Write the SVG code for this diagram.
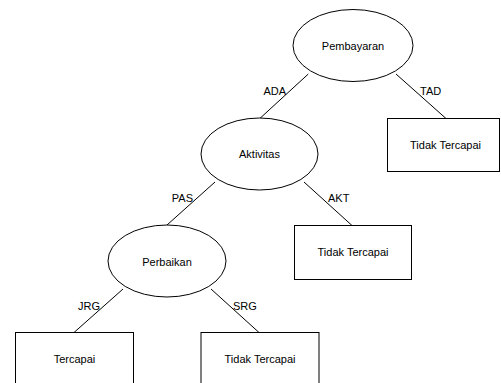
<svg xmlns="http://www.w3.org/2000/svg" width="501" height="383" viewBox="0 0 501 383">
<style>
.n{fill:#fff;stroke:#000;stroke-width:1}
.e{stroke:#000;stroke-width:1;fill:none}
text{font-family:"Liberation Sans",Arial,sans-serif;font-size:11px;fill:#000}
.c{text-anchor:middle}
.l{fill:#000}
</style>
<rect width="501" height="383" fill="#fff"/>
<g id="connectors">
<line class="e" x1="308.3" y1="74" x2="260" y2="118.3"/>
<line class="e" x1="396" y1="74" x2="446" y2="118.5"/>
<line class="e" x1="215" y1="182" x2="167" y2="225"/>
<line class="e" x1="304" y1="182" x2="352" y2="225.5"/>
<line class="e" x1="123" y1="289" x2="74" y2="332.5"/>
<line class="e" x1="211" y1="289" x2="259" y2="332.5"/>
<text class="l" x="286" y="95" text-anchor="end">ADA</text>
<text class="l" x="420" y="95">TAD</text>
<text class="l" x="193" y="202" text-anchor="end">PAS</text>
<text class="l" x="328" y="202">AKT</text>
<text class="l" x="100" y="310" text-anchor="end">JRG</text>
<text class="l" x="233" y="310">SRG</text>
</g>
<g id="pembayaran">
<ellipse class="n" cx="353" cy="45.5" rx="60" ry="36"/>
<text class="c" x="353" y="50">Pembayaran</text>
</g>
<g id="tidak1">
<rect class="n" x="387.5" y="118.5" width="112" height="53"/>
<text class="c" x="445.5" y="148.5">Tidak Tercapai</text>
</g>
<g id="aktivitas">
<ellipse class="n" cx="259.5" cy="154" rx="58.5" ry="36"/>
<text class="c" x="259.5" y="157.5">Aktivitas</text>
</g>
<g id="tidak2">
<rect class="n" x="294.5" y="225.5" width="117" height="54"/>
<text class="c" x="353" y="255.5">Tidak Tercapai</text>
</g>
<g id="perbaikan">
<ellipse class="n" cx="167" cy="261" rx="59" ry="36"/>
<text class="c" x="167" y="265.5">Perbaikan</text>
</g>
<g id="tercapai">
<rect class="n" x="15.5" y="332.5" width="118" height="54"/>
<text class="c" x="74.5" y="362.5">Tercapai</text>
</g>
<g id="tidak3">
<rect class="n" x="201" y="332.5" width="118" height="54"/>
<text class="c" x="260" y="362.5">Tidak Tercapai</text>
</g>
</svg>
